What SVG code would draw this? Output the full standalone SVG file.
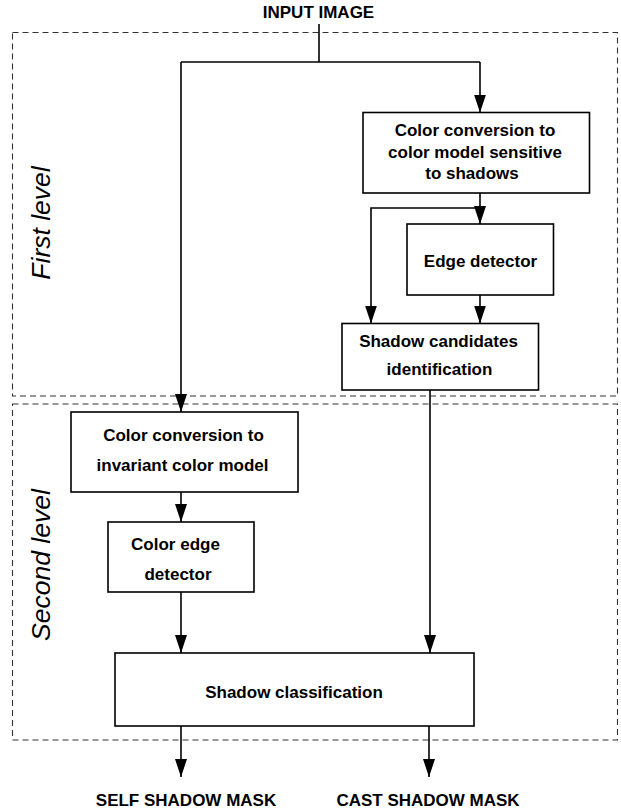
<svg xmlns="http://www.w3.org/2000/svg" width="621" height="812" viewBox="0 0 621 812">
<style>
.box{fill:#fff;stroke:#000;stroke-width:1.6}
.dash{fill:none;stroke:#333;stroke-width:1.1;stroke-dasharray:6 4}
.ln{fill:none;stroke:#000;stroke-width:1.6}
.t{font-family:"Liberation Sans",Arial,Helvetica,sans-serif;font-weight:bold;font-size:17px;fill:#000;text-anchor:middle}
.lvl{font-family:"Liberation Sans",Arial,Helvetica,sans-serif;font-style:italic;font-size:26.5px;fill:#000;text-anchor:middle}
</style>
<defs>
<marker id="ah" markerWidth="18" markerHeight="12" refX="18" refY="6" orient="auto" markerUnits="userSpaceOnUse">
<path d="M0,0 L18,6 L0,12 Z" fill="#000"/>
</marker>
</defs>
<g id="levels">
<rect class="dash" x="12.5" y="32.5" width="605" height="363.5"/>
<rect class="dash" x="12.5" y="404" width="605" height="336"/>
<text class="lvl" transform="translate(50,223) rotate(-90)">First level</text>
<text class="lvl" transform="translate(50,565) rotate(-90)">Second level</text>
</g>
<g id="connectors">
<path class="ln" d="M319,24 V62"/>
<path class="ln" d="M181,62 H480"/>
<path class="ln" d="M480,62 V112.5" marker-end="url(#ah)"/>
<path class="ln" d="M181,62 V412" marker-end="url(#ah)"/>
<path class="ln" d="M480,193 V224" marker-end="url(#ah)"/>
<path class="ln" d="M480,208 H371 V323.5" marker-end="url(#ah)"/>
<path class="ln" d="M480,295 V323.5" marker-end="url(#ah)"/>
<path class="ln" d="M430,390 V653" marker-end="url(#ah)"/>
<path class="ln" d="M181,492 V522" marker-end="url(#ah)"/>
<path class="ln" d="M181,592 V653" marker-end="url(#ah)"/>
<path class="ln" d="M181,726 V777" marker-end="url(#ah)"/>
<path class="ln" d="M429,726 V777" marker-end="url(#ah)"/>
</g>
<g id="input"><text class="t" x="318.5" y="18.3">INPUT IMAGE</text></g>
<g id="colorSensitive">
<rect class="box" x="363" y="112.5" width="226.5" height="80.5"/>
<text class="t" x="475" y="136">Color conversion to</text>
<text class="t" x="475" y="157.5">color model sensitive</text>
<text class="t" x="472" y="179">to shadows</text>
</g>
<g id="edgeDetector">
<rect class="box" x="407" y="224" width="146.5" height="71"/>
<text class="t" x="480.5" y="266.5">Edge detector</text>
</g>
<g id="shadowCandidates">
<rect class="box" x="342" y="323.5" width="196.5" height="66.5"/>
<text class="t" x="438.5" y="346.5">Shadow candidates</text>
<text class="t" x="439.5" y="375">identification</text>
</g>
<g id="colorInvariant">
<rect class="box" x="71" y="412" width="227" height="80"/>
<text class="t" x="183.5" y="441">Color conversion to</text>
<text class="t" x="182.5" y="470.5">invariant color model</text>
</g>
<g id="colorEdge">
<rect class="box" x="108" y="522" width="146" height="70"/>
<text class="t" x="175.5" y="550">Color edge</text>
<text class="t" x="178" y="579.5">detector</text>
</g>
<g id="classification">
<rect class="box" x="115" y="653" width="359" height="73"/>
<text class="t" x="294" y="698">Shadow classification</text>
</g>
<g id="outputs">
<text class="t" x="186" y="806">SELF SHADOW MASK</text>
<text class="t" x="428" y="806">CAST SHADOW MASK</text>
</g>
</svg>
